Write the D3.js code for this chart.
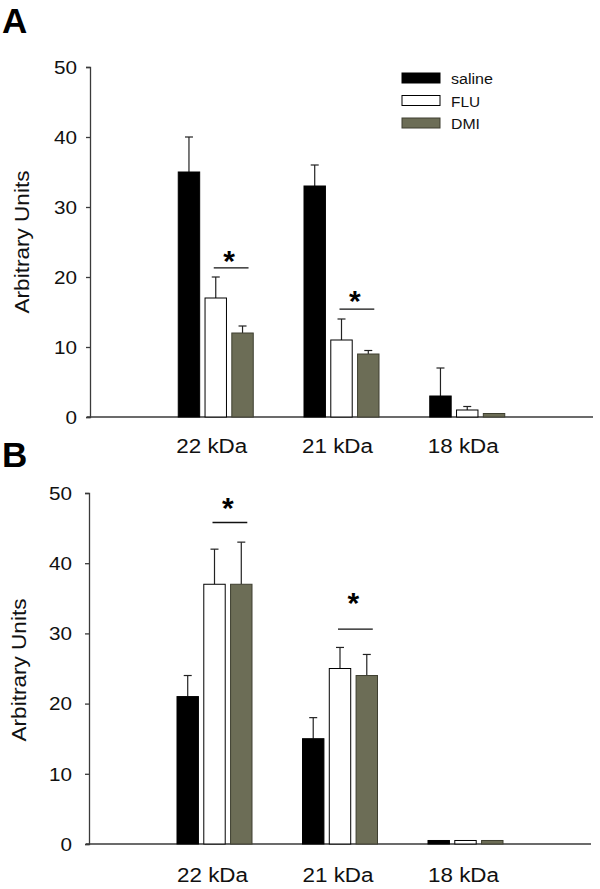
<!DOCTYPE html>
<html><head><meta charset="utf-8">
<script src="https://cdn.jsdelivr.net/npm/d3@7"></script>
<style>
html,body{margin:0;padding:0;background:#fff;}
svg{display:block;font-family:"Liberation Sans",Arial,sans-serif;}
</style></head>
<body><svg id="c" width="600" height="889"></svg>
<script>
const categories = ["22 kDa", "21 kDa", "18 kDa"];
const seriesNames = ["saline", "FLU", "DMI"];
const seriesColors = ["#000000", "#ffffff", "#6c6d56"];
const yTicks = [0, 10, 20, 30, 40, 50];

// Panel A
const A_saline = [35, 33, 3];
const A_saline_err = [5, 3, 4];
const A_FLU = [17, 11, 1];
const A_FLU_err = [3, 3, 0.5];
const A_DMI = [12, 9, 0.5];
const A_DMI_err = [1, 0.5, 0];
const A_sigCats = ["22 kDa", "21 kDa"];
const A_sigLine = [21.3, 15.4];
const A_sigStar = [23.1, 17.4];

// Panel B
const B_saline = [21, 15, 0.5];
const B_saline_err = [3, 3, 0];
const B_FLU = [37, 25, 0.5];
const B_FLU_err = [5, 3, 0];
const B_DMI = [37, 24, 0.5];
const B_DMI_err = [6, 3, 0];
const B_sigCats = ["22 kDa", "21 kDa"];
const B_sigLine = [45.8, 30.6];
const B_sigStar = [48.7, 35.2];

const svg = d3.select("#c");

function panel(o) {
  const g = svg.append("g");
  const x = d3.scalePoint().domain(categories).range([o.x0, o.x1]).padding(1);
  const y = d3.scaleLinear().domain([0, 50]).range([o.yBottom, o.yTop]);
  const series = [
    {name: "saline", vals: o.saline, errs: o.salineErr},
    {name: "FLU", vals: o.flu, errs: o.fluErr},
    {name: "DMI", vals: o.dmi, errs: o.dmiErr}
  ];
  const off = d3.scaleBand().domain(seriesNames).range([-37.5, 37.5]).paddingInner(0.2);
  const axisCol = "#3a3a3a";

  // y axis
  const ya = d3.axisLeft(y).tickValues(yTicks).tickSize(4).tickPadding(o.tickPad);
  const yg = g.append("g").attr("transform", `translate(${o.x0},0)`).call(ya);
  yg.select(".domain").attr("stroke", axisCol).attr("stroke-width", 1.3);
  yg.selectAll(".tick line").attr("stroke", axisCol).attr("stroke-width", 1.3);
  yg.selectAll(".tick text").attr("font-size", 18).attr("fill", "#111")
    .attr("font-family", "Liberation Sans, Arial, sans-serif").attr("dy", "0.35em")
    .attr("textLength", (d) => String(d).length * 11.5).attr("lengthAdjust", "spacingAndGlyphs");

  // x axis line
  g.append("line").attr("x1", o.x0 - 3).attr("x2", o.x1).attr("y1", y(0)).attr("y2", y(0))
    .attr("stroke", axisCol).attr("stroke-width", 1.3);

  // x labels
  g.selectAll(".xl").data(categories).enter().append("text")
    .attr("x", (d) => x(d) + o.labelDx).attr("y", o.labelY)
    .attr("text-anchor", "middle").attr("font-size", 20).attr("fill", "#111")
    .attr("textLength", 71).attr("lengthAdjust", "spacingAndGlyphs").text((d) => d);

  // bars
  series.forEach((s, si) => {
    const col = seriesColors[si];
    categories.forEach((c, ci) => {
      const bx = x(c) + off(s.name);
      const bw = off.bandwidth();
      const v = s.vals[ci], e = s.errs[ci];
      if (e > 0) {
        const cx = bx + bw / 2;
        g.append("line").attr("x1", cx).attr("x2", cx).attr("y1", y(v)).attr("y2", y(v + e))
          .attr("stroke", "#222").attr("stroke-width", 1.2);
        g.append("line").attr("x1", cx - 4).attr("x2", cx + 4).attr("y1", y(v + e)).attr("y2", y(v + e))
          .attr("stroke", "#222").attr("stroke-width", 1.2);
      }
      g.append("rect").attr("x", bx).attr("width", bw)
        .attr("y", y(v)).attr("height", y(0) - y(v))
        .attr("fill", col).attr("stroke", si === 2 ? "#3e3f30" : "#000").attr("stroke-width", 1);
    });
  });

  // significance
  o.sigCats.forEach((c, i) => {
    const xa = x(c) + off("FLU") + off.bandwidth() / 2 - 2;
    const xb = x(c) + off("DMI") + off.bandwidth() / 2 + 6;
    g.append("line").attr("x1", xa).attr("x2", xb).attr("y1", y(o.sigLine[i])).attr("y2", y(o.sigLine[i]))
      .attr("stroke", "#111").attr("stroke-width", 1.3);
    g.append("text").attr("x", (xa + xb) / 2 - 2).attr("y", y(o.sigStar[i]) + 16)
      .attr("text-anchor", "middle").attr("font-size", 30).attr("font-weight", "bold").text("*");
  });

  // y title
  g.append("text").attr("transform", `translate(${o.yTitleX},${o.yTitleY}) rotate(-90)`)
    .attr("text-anchor", "middle").attr("dy", "0.35em").attr("font-size", 21).attr("fill", "#111")
    .attr("textLength", 143).attr("lengthAdjust", "spacingAndGlyphs")
    .text("Arbitrary Units");

  // panel letter
  g.append("text").attr("x", 2).attr("y", o.letterY).attr("font-size", 35)
    .attr("font-weight", "bold").text(o.letter);

  return {x, y, g};
}

panel({
  letter: "A", letterY: 33,
  x0: 90, x1: 593, yTop: 67, yBottom: 417, tickPad: 9, labelY: 453, labelDx: -4,
  yTitleX: 22, yTitleY: 242,
  saline: A_saline, salineErr: A_saline_err, flu: A_FLU, fluErr: A_FLU_err, dmi: A_DMI, dmiErr: A_DMI_err,
  sigCats: A_sigCats, sigLine: A_sigLine, sigStar: A_sigStar
});

panel({
  letter: "B", letterY: 467,
  x0: 89, x1: 591, yTop: 493, yBottom: 844, tickPad: 13, labelY: 882, labelDx: -2,
  yTitleX: 19, yTitleY: 670,
  saline: B_saline, salineErr: B_saline_err, flu: B_FLU, fluErr: B_FLU_err, dmi: B_DMI, dmiErr: B_DMI_err,
  sigCats: B_sigCats, sigLine: B_sigLine, sigStar: B_sigStar
});

// legend (panel A)
const legendWidths = [42, 29, 29];
const leg = svg.append("g").attr("transform", "translate(402,73)");
seriesNames.forEach((n, i) => {
  leg.append("rect").attr("x", 0).attr("y", i * 22.5).attr("width", 38).attr("height", 10)
    .attr("fill", seriesColors[i]).attr("stroke", i === 2 ? "#3e3f30" : "#000").attr("stroke-width", 1);
  leg.append("text").attr("x", 49).attr("y", i * 22.5 + 11).attr("font-size", 14).attr("fill", "#111")
    .attr("textLength", legendWidths[i]).attr("lengthAdjust", "spacingAndGlyphs").text(n);
});
</script></body></html>
